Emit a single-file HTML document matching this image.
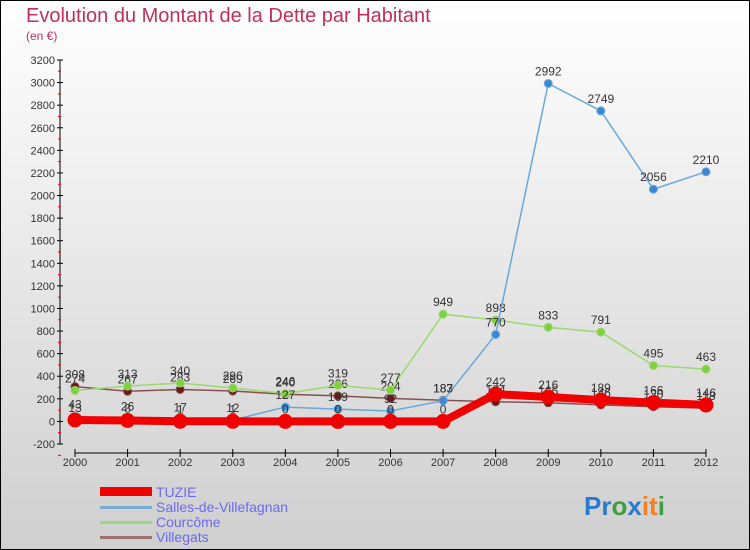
<!DOCTYPE html>
<html><head><meta charset="utf-8"><style>
body{margin:0}
#wrap{width:750px;height:550px;position:relative;overflow:hidden}
svg{display:block;font-family:"Liberation Sans",sans-serif}
</style></head><body>
<div id="wrap">
<svg id="c" width="750" height="550">
<defs><linearGradient id="bg" x1="0" y1="0" x2="0" y2="1"><stop offset="0" stop-color="#ffffff"/><stop offset="1" stop-color="#cfcfcf"/></linearGradient></defs>
<rect x="0.5" y="0.5" width="749" height="549" fill="url(#bg)" stroke="#000"/>
<text x="26" y="22" font-size="20" fill="#c0305a">Evolution du Montant de la Dette par Habitant</text>
<text x="26" y="40" font-size="12" fill="#c0305a">(en €)</text>
<g id="axes"></g><g id="series"></g>
<g>
<rect x="100" y="487" width="52" height="9" fill="#f00000"/>
<text x="156" y="497" font-size="14" fill="#6a6aee">TUZIE</text>
<rect x="100" y="506" width="52" height="3" fill="#7aaad0"/>
<text x="156" y="512" font-size="14" fill="#6a6aee">Salles-de-Villefagnan</text>
<rect x="100" y="521" width="52" height="3" fill="#9ad880"/>
<text x="156" y="527" font-size="14" fill="#6a6aee">Courcôme</text>
<rect x="100" y="536" width="52" height="3" fill="#9a7070"/>
<text x="156" y="542" font-size="14" fill="#6a6aee">Villegats</text>
</g>
<text x="584" y="515" font-size="26" font-weight="bold"><tspan fill="#2a7ad0">Pr</tspan><tspan fill="#40a040">o</tspan><tspan fill="#2a7ad0">x</tspan><tspan fill="#f08020">it</tspan><tspan fill="#40a040">i</tspan></text>
</svg></div>
<script>
const years=[2000,2001,2002,2003,2004,2005,2006,2007,2008,2009,2010,2011,2012];
const tuzie=[13,8,1,1,0,0,0,0,242,216,189,166,146];
const salles=[43,26,17,12,127,109,92,183,770,2992,2749,2056,2210];
const courcome=[274,313,340,296,246,319,277,949,898,833,791,495,463];
const villegats=[308,267,283,269,240,226,204,187,174,165,146,130,118];
const yTicks=[-200,0,200,400,600,800,1000,1200,1400,1600,1800,2000,2200,2400,2600,2800,3000,3200];
const NS="http://www.w3.org/2000/svg";
const x0=75,x1=706,yTop=60,yBot=444,vMin=-200,vMax=3200;
const X=i=>x0+(x1-x0)*i/(years.length-1);
const Y=v=>yBot-(v-vMin)/(vMax-vMin)*(yBot-yTop);
function mk(t,a,p){const e=document.createElementNS(NS,t);for(const k in a)e.setAttribute(k,a[k]);p.appendChild(e);return e;}
const ax=document.getElementById('axes'),sg=document.getElementById('series');
const yl=mk('line',{x1:60,y1:yTop,x2:60,y2:yBot,stroke:'#000'},ax);


const xl=mk('line',{x1:x0,y1:453,x2:x1,y2:453,stroke:'#000'},ax);


yTicks.forEach(v=>{const y=Y(v);
mk('line',{x1:57,y1:y,x2:63,y2:y,stroke:'#000'},ax);
mk('line',{x1:58,y1:y+11.3,x2:61,y2:y+11.3,stroke:'#e00'},ax);
const t=mk('text',{x:55,y:y+4,'font-size':11,'text-anchor':'end',fill:'#333'},ax);t.textContent=v;

});
years.forEach((yr,i)=>{const x=X(i);mk('line',{x1:x,y1:449,x2:x,y2:457,stroke:'#000'},ax);
const t=mk('text',{x:x,y:466,'font-size':11,'text-anchor':'middle',fill:'#333'},ax);t.textContent=yr;

});
function draw(name,data,color,dot,w,r){
const g=mk('g',{},sg);


mk('polyline',{points:data.map((v,i)=>X(i)+','+Y(v)).join(' '),fill:'none',stroke:color,'stroke-width':w},g);
data.forEach((v,i)=>{const c=mk('circle',{cx:X(i),cy:Y(v),r:r,fill:dot,stroke:color,'stroke-width':1},g);


const t=mk('text',{x:X(i),y:Y(v)-8,'font-size':12,'text-anchor':'middle',fill:'#333'},g);t.textContent=v;

});}
draw('villegats',villegats,'#8a5050','#6a1818',1.5,4);
draw('courcome',courcome,'#9ad870','#80d040',1.5,4);
draw('salles',salles,'#6aa8dc','#3a88d0',1.5,4);
draw('tuzie',tuzie,'#f00000','#f00000',8,7);
</script></body></html>
